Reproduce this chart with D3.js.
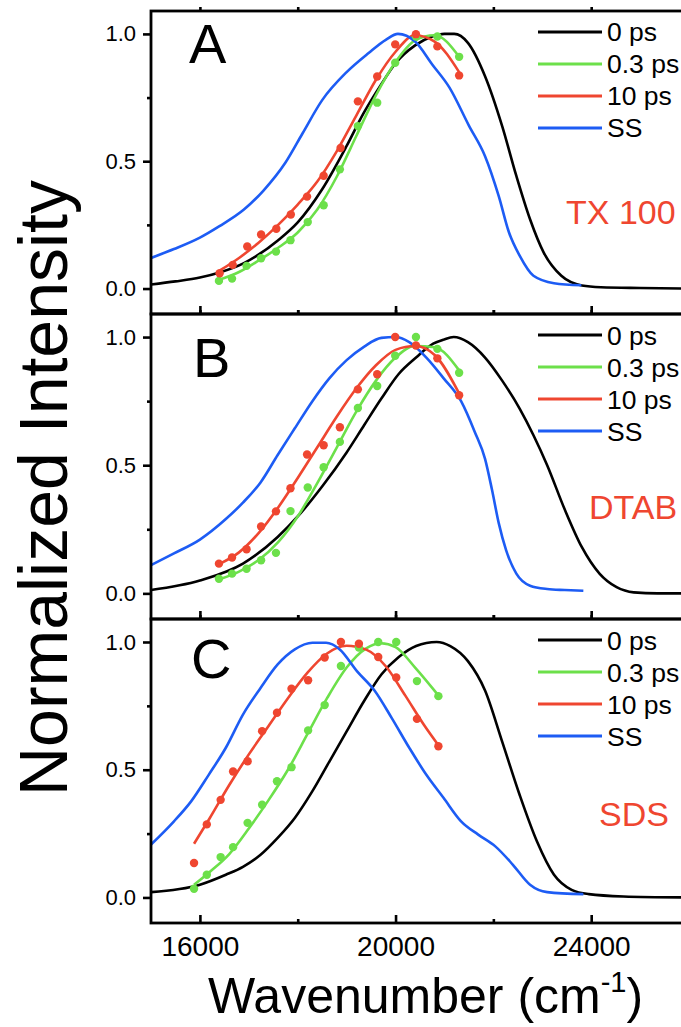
<!DOCTYPE html>
<html>
<head>
<meta charset="utf-8">
<script src="https://cdn.jsdelivr.net/npm/d3@7"></script>
<style>
  body { margin: 0; background: #fff; }
  text { font-family: "Liberation Sans", Arial, Helvetica, sans-serif; }
</style>
</head>
<body>
<svg id="chart" width="681" height="1027"></svg>
<script>
// values: [wavenumber (cm-1), normalized intensity]
const panelLetters = ['A', 'B', 'C']
const solventNames = ['TX 100', 'DTAB', 'SDS']
const legendLabels = ['0 ps', '0.3 ps', '10 ps', 'SS']
const xTicks = [16000, 20000, 24000]
const xMinorTicks = [18000, 22000]
const yTicks = [0, 0.5, 1.0]
const yMinorTicks = [0.25, 0.75]

// panel A (TX 100)
const zeroA = [[15000, 0.016], [15500, 0.028], [16000, 0.043], [16400, 0.063], [16900, 0.10], [17600, 0.19], [18000, 0.26], [18500, 0.39], [19000, 0.56], [19350, 0.69], [19700, 0.80], [20000, 0.885], [20400, 0.955], [20750, 0.99], [21000, 1.0], [21200, 1.0], [21480, 0.965], [21830, 0.834], [22180, 0.638], [22470, 0.442], [22750, 0.272], [23030, 0.141], [23390, 0.05], [23810, 0.012], [24200, 0.005], [25000, 0.002], [26000, 0.0]]
const ssA = [[15000, 0.12], [15470, 0.155], [16000, 0.20], [16400, 0.245], [16900, 0.31], [17300, 0.385], [17750, 0.495], [18100, 0.61], [18500, 0.74], [19000, 0.85], [19450, 0.925], [19800, 0.977], [20050, 1.0], [20400, 0.97], [20750, 0.88], [21100, 0.79], [21500, 0.64], [21830, 0.52], [22110, 0.363], [22320, 0.22], [22540, 0.128], [22820, 0.05], [23240, 0.021], [23800, 0.013]]
const fitGreenA = [[16400, 0.035], [16800, 0.065], [17200, 0.11], [17600, 0.16], [18000, 0.22], [18400, 0.31], [18800, 0.44], [19200, 0.60], [19600, 0.76], [20000, 0.89], [20400, 0.975], [20800, 0.995], [21300, 0.91]]
const dotsGreenA = [[16389, 0.030], [16657, 0.039], [16954, 0.089], [17251, 0.119], [17555, 0.145], [17852, 0.190], [18205, 0.261], [18530, 0.327], [18862, 0.468], [19230, 0.638], [19625, 0.730], [19993, 0.887], [20417, 0.990], [20855, 0.990], [21300, 0.910]]
const fitRedA = [[16400, 0.07], [16800, 0.12], [17200, 0.18], [17600, 0.25], [18000, 0.33], [18400, 0.42], [18800, 0.54], [19200, 0.68], [19600, 0.82], [20000, 0.93], [20400, 0.995], [20800, 0.97], [21300, 0.85]]
const dotsRedA = [[16403, 0.060], [16671, 0.093], [16968, 0.165], [17251, 0.212], [17562, 0.235], [17859, 0.291], [18191, 0.361], [18530, 0.443], [18876, 0.552], [19230, 0.735], [19625, 0.833], [19993, 0.959], [20417, 0.999], [20855, 0.951], [21300, 0.837]]

// panel B (DTAB)
const zeroB = [[15000, 0.013], [16000, 0.05], [16880, 0.116], [17590, 0.22], [18000, 0.30], [18510, 0.42], [19000, 0.55], [19360, 0.657], [19710, 0.76], [20060, 0.855], [20420, 0.92], [20770, 0.974], [20980, 0.99], [21190, 1.0], [21480, 0.98], [21830, 0.92], [22180, 0.83], [22540, 0.72], [22820, 0.617], [23100, 0.50], [23460, 0.327], [23810, 0.18], [24170, 0.077], [24520, 0.024], [24870, 0.004], [25360, 0.0], [26000, 0.0]]
const ssB = [[15000, 0.11], [15470, 0.156], [16000, 0.21], [16530, 0.29], [16880, 0.354], [17240, 0.433], [17590, 0.54], [17940, 0.644], [18300, 0.75], [18650, 0.84], [19000, 0.91], [19360, 0.963], [19710, 0.997], [20000, 1.0], [20280, 0.98], [20630, 0.92], [20980, 0.84], [21340, 0.75], [21620, 0.63], [21830, 0.525], [21970, 0.406], [22110, 0.274], [22260, 0.169], [22470, 0.077], [22750, 0.03], [23100, 0.017], [23460, 0.013], [23840, 0.01]]
const fitGreenB = [[16400, 0.055], [16800, 0.085], [17200, 0.13], [17600, 0.20], [18000, 0.30], [18400, 0.43], [18800, 0.57], [19200, 0.71], [19600, 0.83], [20000, 0.92], [20400, 0.965], [20800, 0.96], [21300, 0.87]]
const dotsGreenB = [[16389, 0.057], [16657, 0.077], [16954, 0.096], [17251, 0.129], [17555, 0.158], [17852, 0.321], [18205, 0.413], [18530, 0.492], [18862, 0.591], [19230, 0.723], [19625, 0.809], [19993, 0.927], [20417, 1.0], [20855, 0.954], [21300, 0.861]]
const fitRedB = [[16400, 0.115], [16800, 0.16], [17200, 0.235], [17600, 0.335], [18000, 0.45], [18400, 0.57], [18800, 0.69], [19200, 0.80], [19600, 0.89], [20000, 0.95], [20400, 0.965], [20800, 0.93], [21300, 0.78]]
const dotsRedB = [[16389, 0.116], [16657, 0.140], [16954, 0.172], [17251, 0.261], [17555, 0.32], [17852, 0.41], [18191, 0.542], [18530, 0.578], [18862, 0.648], [19230, 0.796], [19625, 0.855], [19993, 1.0], [20417, 0.967], [20855, 0.917], [21300, 0.773]]

// panel C (SDS)
const zeroC = [[15000, 0.021], [16000, 0.05], [16530, 0.089], [16880, 0.12], [17240, 0.167], [17590, 0.233], [17940, 0.311], [18300, 0.416], [18650, 0.533], [19000, 0.65], [19360, 0.77], [19710, 0.873], [20060, 0.94], [20420, 0.984], [20840, 1.0], [21120, 0.984], [21480, 0.925], [21830, 0.81], [22180, 0.61], [22540, 0.40], [22890, 0.22], [23240, 0.089], [23600, 0.03], [23950, 0.013], [24660, 0.004], [26000, 0.0]]
const ssC = [[15000, 0.207], [15470, 0.298], [15820, 0.376], [16180, 0.48], [16530, 0.586], [16880, 0.716], [17240, 0.82], [17590, 0.912], [17940, 0.971], [18300, 0.997], [18580, 0.997], [18860, 0.971], [19210, 0.886], [19570, 0.81], [19920, 0.703], [20280, 0.586], [20630, 0.48], [20980, 0.39], [21340, 0.298], [21690, 0.246], [22040, 0.20], [22400, 0.128], [22750, 0.05], [23100, 0.021], [23840, 0.013]]
const fitGreenC = [[15880, 0.05], [16200, 0.10], [16600, 0.17], [17000, 0.27], [17400, 0.38], [17800, 0.50], [18200, 0.64], [18600, 0.78], [19000, 0.90], [19400, 0.975], [19700, 0.995], [20000, 0.98], [20400, 0.90], [20880, 0.79]]
const dotsGreenC = [[15880, 0.034], [16141, 0.089], [16424, 0.158], [16678, 0.197], [16975, 0.292], [17272, 0.363], [17576, 0.455], [17873, 0.51], [18212, 0.654], [18551, 0.753], [18883, 0.906], [19251, 0.978], [19646, 1.0], [20014, 1.0], [20438, 0.847], [20876, 0.788]]
const fitRedC = [[15880, 0.21], [16200, 0.31], [16600, 0.44], [17000, 0.56], [17400, 0.67], [17800, 0.78], [18200, 0.88], [18600, 0.955], [19000, 0.985], [19400, 0.97], [19800, 0.905], [20200, 0.79], [20600, 0.67], [20880, 0.595]]
const dotsRedC = [[15880, 0.135], [16141, 0.286], [16424, 0.382], [16678, 0.493], [16975, 0.533], [17272, 0.651], [17576, 0.723], [17873, 0.817], [18212, 0.85], [18551, 0.939], [18883, 1.0], [19251, 0.993], [19646, 0.941], [20014, 0.861], [20438, 0.699], [20876, 0.592]]

// 色（凡例の順）
const seriesColors = ['#000000', '#6ce04a', '#ef4630', '#1d5cf4']

const panels = [
  { zero: zeroA, ss: ssA, fitG: fitGreenA, dotG: dotsGreenA, fitR: fitRedA, dotR: dotsRedA },
  { zero: zeroB, ss: ssB, fitG: fitGreenB, dotG: dotsGreenB, fitR: fitRedB, dotR: dotsRedB },
  { zero: zeroC, ss: ssC, fitG: fitGreenC, dotG: dotsGreenC, fitR: fitRedC, dotR: dotsRedC }
]

// layout
const left = 151
const right = 689
const tops = [11, 314, 619]
const bottoms = [314, 619, 923]
const letterPos = [[189, 63], [193, 377], [191, 678]]
const solventPos = [[566, 224], [589, 519], [599, 826]]

const svg = d3.select('#chart')
svg.append('rect').attr('width', 681).attr('height', 1027).attr('fill', '#fff')

const xScale = d3.scaleLinear().domain([15000, 26000]).range([left, right])

panels.forEach((p, i) => {
  const yScale = d3.scaleLinear().domain([-0.1, 1.09]).range([bottoms[i], tops[i]])
  const g = svg.append('g')

  const line = d3.line()
    .x(d => xScale(d[0]))
    .y(d => yScale(d[1]))
    .curve(d3.curveMonotoneX)

  // curves
  const curves = [p.zero, p.fitG, p.fitR, p.ss]
  curves.forEach((c, k) => {
    g.append('path')
      .datum(c)
      .attr('d', line)
      .attr('fill', 'none')
      .attr('stroke', seriesColors[k])
      .attr('stroke-width', 2.6)
      .attr('stroke-linejoin', 'round')
  })

  // dots
  const dotSets = [[p.dotG, seriesColors[1]], [p.dotR, seriesColors[2]]]
  dotSets.forEach(([pts, col]) => {
    g.selectAll(null)
      .data(pts)
      .enter()
      .append('circle')
      .attr('cx', d => xScale(d[0]))
      .attr('cy', d => yScale(d[1]))
      .attr('r', 4.2)
      .attr('fill', col)
  })

  // frame
  g.append('rect')
    .attr('x', left).attr('y', tops[i])
    .attr('width', right - left + 20).attr('height', bottoms[i] - tops[i])
    .attr('fill', 'none').attr('stroke', '#000').attr('stroke-width', 2.8)

  // y axis
  const yAxis = g.append('g')
    .attr('transform', `translate(${left},0)`)
    .call(d3.axisLeft(yScale).tickValues(yTicks).tickSize(8).tickPadding(7).tickFormat(d3.format('.1f')))
  yAxis.select('.domain').remove()
  yAxis.selectAll('line').attr('stroke-width', 2.6)
  yAxis.selectAll('text').attr('font-size', 22).attr('font-family', '"Liberation Sans", Arial, sans-serif')

  const yMinor = g.append('g')
    .attr('transform', `translate(${left},0)`)
    .call(d3.axisLeft(yScale).tickValues(yMinorTicks).tickSize(4).tickFormat(''))
  yMinor.select('.domain').remove()
  yMinor.selectAll('line').attr('stroke-width', 2.6)

  // x axis (ticks inward)
  const xAxis = g.append('g')
    .attr('transform', `translate(0,${bottoms[i]})`)
    .call(d3.axisBottom(xScale).tickValues(xTicks).tickSizeInner(-8).tickSizeOuter(0).tickPadding(13)
      .tickFormat(i === 2 ? d3.format('d') : ''))
  xAxis.select('.domain').remove()
  xAxis.selectAll('line').attr('stroke-width', 2.6)
  xAxis.selectAll('text').attr('font-size', 28).attr('font-family', '"Liberation Sans", Arial, sans-serif')

  const xMinor = g.append('g')
    .attr('transform', `translate(0,${bottoms[i]})`)
    .call(d3.axisBottom(xScale).tickValues(xMinorTicks).tickSizeInner(-4).tickSizeOuter(0).tickFormat(''))
  xMinor.select('.domain').remove()
  xMinor.selectAll('line').attr('stroke-width', 2.6)

  const xTop = g.append('g')
    .attr('transform', `translate(0,${tops[i]})`)
    .call(d3.axisTop(xScale).tickValues(xTicks.concat(xMinorTicks)).tickSize(4).tickFormat(''))
  xTop.select('.domain').remove()
  xTop.selectAll('line').attr('stroke-width', 2.6)

  // panel letter
  g.append('text')
    .attr('x', letterPos[i][0]).attr('y', letterPos[i][1])
    .attr('font-size', 56)
    .text(panelLetters[i])

  // solvent label
  g.append('text')
    .attr('x', solventPos[i][0]).attr('y', solventPos[i][1])
    .attr('font-size', 34)
    .attr('fill', seriesColors[2])
    .text(solventNames[i])

  // legend
  const ly = yScale(1.0) - 2
  const legend = g.selectAll('.legend-item')
    .data(legendLabels)
    .enter()
    .append('g')
    .attr('transform', (d, k) => `translate(0,${ly + k * 32})`)
  legend.append('line')
    .attr('x1', 538).attr('x2', 602)
    .attr('stroke', (d, k) => seriesColors[k])
    .attr('stroke-width', 3)
  legend.append('text')
    .attr('x', 607).attr('dy', '0.36em')
    .attr('font-size', 26.5)
    .text(d => d)
})

// axis titles
svg.append('text')
  .attr('transform', 'translate(67,488) rotate(-90)')
  .attr('text-anchor', 'middle')
  .attr('font-size', 68)
  .text('Normalized Intensity')

const xt = svg.append('text')
  .attr('x', 208).attr('y', 1013)
  .attr('font-size', 50)
xt.append('tspan').text('Wavenumber (cm')
xt.append('tspan').attr('font-size', 29).attr('dy', -21).text('-1')
xt.append('tspan').attr('dy', 21).text(')')
</script>
</body>
</html>
